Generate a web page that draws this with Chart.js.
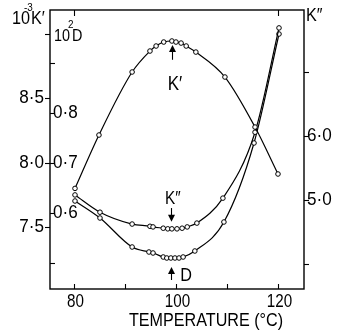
<!DOCTYPE html>
<html>
<head>
<meta charset="utf-8">
<script src="https://cdn.jsdelivr.net/npm/chart.js@4.4.0/dist/chart.umd.min.js"></script>
<style>
  html, body { margin: 0; padding: 0; background: #fff; }
</style>
</head>
<body>
<canvas id="chart" width="337" height="335"></canvas>
<script>
// K' (10^-3, left outer axis)
const TEMP_K1 = [80.2, 84.9, 91.4, 94.9, 96.1, 97.6, 99.2, 100.0, 101.0, 102.0, 103.9, 109.6, 115.5, 120.0];
const K1 = [7.80, 8.215, 8.705, 8.868, 8.907, 8.938, 8.946, 8.938, 8.93, 8.907, 8.86, 8.666, 8.277, 7.912];

// K'' (right axis)
const TEMP_K2 = [80.2, 85.1, 91.4, 94.9, 95.5, 97.5, 98.4, 99.2, 100.2, 101.2, 102.2, 104.1, 109.2, 115.5, 120.2];
const K2 = [5.08, 4.81, 4.625, 4.59, 4.58, 4.56, 4.55, 4.55, 4.55, 4.56, 4.58, 4.64, 5.03, 6.06, 7.69];

// 10^2 D (left inner axis)
const TEMP_D = [80.2, 85.1, 91.4, 94.7, 95.5, 97.5, 98.2, 99.0, 99.8, 100.6, 101.4, 103.7, 109.4, 115.3, 120.2];
const D = [0.624, 0.59, 0.532, 0.522, 0.52, 0.512, 0.51, 0.51, 0.51, 0.51, 0.512, 0.524, 0.582, 0.74, 0.958];

// ticks and labels
const X_TICKS = [80, 90, 100, 110, 120];
const X_LABELS = { 80: '80', 100: '100', 120: '120' };
const X_TOP_TICKS = [80, 120];
const K1_TICKS = [7.5, 8.0, 8.5, 9.0];
const K1_LABELS = { 7.5: '7·5', 8.0: '8·0', 8.5: '8·5' };
const D_TICKS = [0.5, 0.6, 0.7, 0.8, 0.9];
const D_LABELS = { 0.6: '0·6', 0.7: '0·7', 0.8: '0·8' };
const K2_TICKS = [4.0, 5.0, 6.0, 7.0];
const K2_LABELS = { 5.0: '5·0', 6.0: '6·0' };

const FONT = '"Liberation Sans", Arial, sans-serif';

const toPoints = (xs, ys) => xs.map((x, i) => ({ x: x, y: ys[i] }));

function txt(ctx, s, x, y, size, sx, align) {
  ctx.save();
  ctx.font = size + 'px ' + FONT;
  ctx.textBaseline = 'middle';
  ctx.textAlign = align || 'center';
  ctx.translate(x, y);
  ctx.scale(sx, 1);
  ctx.fillText(s, 0, 0);
  ctx.restore();
}

function arrow(ctx, x, y0, y1) {
  // line from y0 to y1, head at y1
  const dir = y1 > y0 ? 1 : -1;
  ctx.beginPath();
  ctx.moveTo(x, y0);
  ctx.lineTo(x, y1 - dir * 5);
  ctx.stroke();
  ctx.beginPath();
  ctx.moveTo(x, y1);
  ctx.lineTo(x - 3.5, y1 - dir * 7);
  ctx.lineTo(x + 3.5, y1 - dir * 7);
  ctx.closePath();
  ctx.fill();
}

const framePlugin = {
  id: 'frame',
  afterDatasetsDraw(chart) {
    const { ctx, chartArea: a, scales } = chart;
    const xs = scales.x, yk = scales.yK1, yd = scales.yD, y2 = scales.yK2;
    ctx.save();
    ctx.strokeStyle = '#000';
    ctx.fillStyle = '#000';
    ctx.lineWidth = 1.4;
    ctx.strokeRect(a.left, a.top, a.right - a.left, a.bottom - a.top);
    ctx.lineWidth = 1.1;

    // x ticks, bottom (inward) and top (inward)
    X_TICKS.forEach(v => {
      const px = Math.round(xs.getPixelForValue(v)) + 0.5;
      ctx.beginPath(); ctx.moveTo(px, a.bottom); ctx.lineTo(px, a.bottom - 5); ctx.stroke();
      if (X_LABELS[v]) txt(ctx, X_LABELS[v], px + 1, a.bottom + 13, 19, 0.8, 'center');
    });
    X_TOP_TICKS.forEach(v => {
      const px = Math.round(xs.getPixelForValue(v)) + 0.5;
      ctx.beginPath(); ctx.moveTo(px, a.top); ctx.lineTo(px, a.top + 6); ctx.stroke();
    });

    // K' ticks on the left, outward
    K1_TICKS.forEach(v => {
      const py = Math.round(yk.getPixelForValue(v)) + 0.5;
      ctx.beginPath(); ctx.moveTo(a.left, py); ctx.lineTo(a.left - 5, py); ctx.stroke();
      if (K1_LABELS[v]) txt(ctx, K1_LABELS[v], a.left - 6, py, 18, 0.95, 'right');
    });

    // D ticks on the left, inward
    D_TICKS.forEach(v => {
      const py = Math.round(yd.getPixelForValue(v)) + 0.5;
      ctx.beginPath(); ctx.moveTo(a.left, py); ctx.lineTo(a.left + 5, py); ctx.stroke();
      if (D_LABELS[v]) txt(ctx, D_LABELS[v], a.left + 3, py, 18, 0.95, 'left');
    });

    // K'' ticks on the right, outward
    K2_TICKS.forEach(v => {
      const py = Math.round(y2.getPixelForValue(v)) + 0.5;
      ctx.beginPath(); ctx.moveTo(a.right, py); ctx.lineTo(a.right + 5, py); ctx.stroke();
      if (K2_LABELS[v]) txt(ctx, K2_LABELS[v], a.right + 3, py, 18, 0.95, 'left');
    });

    // axis titles
    txt(ctx, '10', 12, 19, 18, 0.9, 'left');
    txt(ctx, '-3', 24, 8, 11, 0.9, 'left');
    txt(ctx, 'K′', 31, 19, 18, 0.9, 'left');

    txt(ctx, '10', 54, 37, 16, 0.9, 'left');
    txt(ctx, '2', 68, 25, 11, 0.9, 'left');
    txt(ctx, 'D', 72, 37, 16, 0.9, 'left');

    txt(ctx, 'K″', a.right + 2, 16, 18, 0.9, 'left');

    txt(ctx, 'TEMPERATURE (°C)', 206, 321, 19, 0.85, 'center');

    // curve annotations
    txt(ctx, 'K′', xs.getPixelForValue(99.8), yk.getPixelForValue(8.61), 20, 0.85, 'center');
    arrow(ctx, Math.round(xs.getPixelForValue(99.2)) + 0.5, yk.getPixelForValue(8.80), yk.getPixelForValue(8.915));

    txt(ctx, 'K″', xs.getPixelForValue(99.4), y2.getPixelForValue(5.02), 18, 0.85, 'center');
    arrow(ctx, Math.round(xs.getPixelForValue(99.0)) + 0.5, y2.getPixelForValue(4.875), y2.getPixelForValue(4.66));

    arrow(ctx, Math.round(xs.getPixelForValue(99.0)) + 0.5, yd.getPixelForValue(0.466), yd.getPixelForValue(0.492));
    txt(ctx, 'D', xs.getPixelForValue(102.0), yd.getPixelForValue(0.473), 18, 0.9, 'center');

    ctx.restore();
  }
};

const lineStyle = {
  borderColor: '#000',
  borderWidth: 1.2,
  pointRadius: 2.3,
  pointBackgroundColor: '#fff',
  pointBorderColor: '#000',
  pointBorderWidth: 1,
  fill: false,
  cubicInterpolationMode: 'monotone'
};

new Chart(document.getElementById('chart').getContext('2d'), {
  type: 'line',
  data: {
    datasets: [
      { label: "K'", data: toPoints(TEMP_K1, K1), yAxisID: 'yK1', ...lineStyle },
      { label: "K''", data: toPoints(TEMP_K2, K2), yAxisID: 'yK2', ...lineStyle },
      { label: 'D', data: toPoints(TEMP_D, D), yAxisID: 'yD', ...lineStyle }
    ]
  },
  options: {
    responsive: false,
    animation: false,
    devicePixelRatio: 1,
    layout: { padding: { left: 50, right: 33, top: 10, bottom: 46 } },
    plugins: { legend: { display: false }, tooltip: { enabled: false } },
    scales: {
      x: { type: 'linear', min: 75.3, max: 125.1, display: false },
      yK1: { type: 'linear', min: 7.018, max: 9.187, display: false },
      yD: { type: 'linear', min: 0.448, max: 1.006, display: false },
      yK2: { type: 'linear', min: 3.61, max: 7.97, display: false }
    }
  },
  plugins: [framePlugin]
});
</script>
</body>
</html>
